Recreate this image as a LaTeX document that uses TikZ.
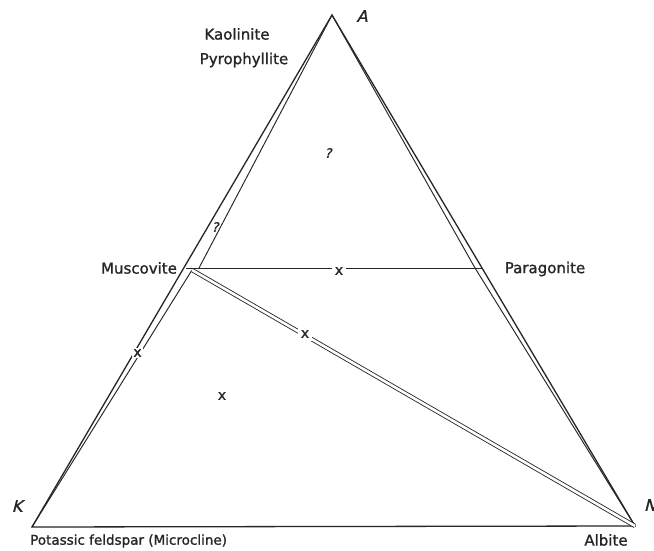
\documentclass[tikz,border=0pt]{standalone}
\usepackage{fontspec}
\setmainfont{DejaVu Sans}[FakeBold=1.2]
\newfontfamily\obl{DejaVu Sans}[FakeBold=1.2, FakeSlant=0.25]
\definecolor{ink}{HTML}{262626}
\begin{document}
\begin{tikzpicture}[x=1pt,y=-1pt,
  edge/.style={draw=ink, line width=1.3pt, line join=miter},
  inner/.style={draw=ink, line width=0.95pt},
  dbl/.style={draw=ink, double=white, double distance=2.6pt, line width=0.85pt},
  lbl/.style={text=ink, font=\fontsize{15}{18}\selectfont, inner sep=0pt},
  vlbl/.style={text=ink, font=\fontsize{16}{18}\selectfont\obl, inner sep=0pt},
  xmark/.style={text=ink, font=\fontsize{14}{14}\selectfont, fill=white, inner sep=3pt},
  qmark/.style={text=ink, font=\fontsize{13}{14}\selectfont\obl, inner sep=0pt},
]
\useasboundingbox (0,0) rectangle (654,551);
\fill[white] (0,0) rectangle (654,551);

% vertices and points
\coordinate (A) at (332,15);
\coordinate (K) at (32,527);
\coordinate (N) at (635,526);
\coordinate (MuU) at (199,268);
\coordinate (MuL) at (192,270);
\coordinate (Pa) at (475,268);
\coordinate (HL) at (186,268);
\coordinate (HR) at (482,268);

% outer triangle
\draw[edge] (K) -- (A) -- (N) -- cycle;
% inner joins
\draw[inner] (A) -- (MuU);
\draw[inner] (K) -- (MuL);
\draw[inner] (A) -- (Pa) -- (N);
\draw[inner] (HL) -- (HR);
\draw[dbl] (MuL) -- (N);

% crosses (break lines)
\node[xmark] (x1) at (339,271) {x};
\node[xmark] (x2) at (305,334) {x};
\node[xmark, inner sep=1.5pt] (x3) at (137.5,353) {x};
\node[text=ink, font=\fontsize{14}{14}\selectfont, inner sep=0pt] (x4) at (222,396) {x};

% question marks
\node[qmark] (q1) at (328,153) {?};
\node[qmark] (q2) at (215,227) {?};

% labels
\node[lbl] (kao) at (237,34) {Kaolinite};
\node[lbl] (pyr) at (244,60) {Pyrophyllite};
\node[lbl] (mus) at (139,268) {Muscovite};
\node[lbl] (par) at (545,269) {Paragonite};
\node[lbl, anchor=west, font=\fontsize{13.5}{16}\selectfont] (pot) at (30,541) {Potassic feldspar (Microcline)};
\node[lbl] (alb) at (606,540) {Albite};
\node[vlbl] (lA) at (362,16) {A};
\node[vlbl] (lK) at (17,506) {K};
\node[vlbl] (lN) at (650,505) {N};
\end{tikzpicture}
\end{document}
